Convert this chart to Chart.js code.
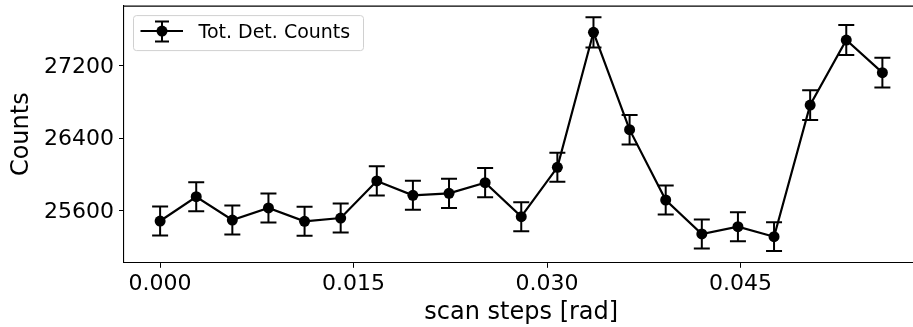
<!DOCTYPE html>
<html>
<head>
<meta charset="utf-8">
<script src="https://cdn.jsdelivr.net/npm/chart.js@4/dist/chart.umd.min.js"></script>
<style>
  html, body { margin: 0; padding: 0; background: #fff; overflow: hidden; }
  #wrap { width: 913px; height: 327px; overflow: hidden; }
  canvas { display: block; }
</style>
</head>
<body>
<div id="wrap"><canvas id="c" width="924" height="327"></canvas></div>
<script>
// ---- data ----
const scanSteps = [0.0000, 0.0028, 0.0056, 0.0084, 0.0112, 0.0140, 0.0168, 0.0196, 0.0224, 0.0252,
                   0.0280, 0.0308, 0.0336, 0.0364, 0.0392, 0.0420, 0.0448, 0.0476, 0.0504, 0.0532, 0.0560];
const counts = [25486, 25754, 25497, 25630, 25483, 25519, 25928, 25770, 25792, 25909,
                25534, 26079, 27568, 26494, 25718, 25343, 25423, 25313, 26766, 27483, 27123];
const countErrors = [160, 160, 160, 160, 160, 160, 161, 161, 161, 161,
                     160, 161, 166, 163, 160, 159, 159, 159, 164, 166, 165];
const xTicks = [0.000, 0.015, 0.030, 0.045];
const yTicks = [25600, 26400, 27200];
const seriesLabel = 'Tot. Det. Counts';
const xTitle = 'scan steps [rad]';
const yTitle = 'Counts';

const FONT = 'DejaVu Sans';

const points = scanSteps.map((x, i) => ({ x: x, y: counts[i] }));

const errorBarPlugin = {
  id: 'errorBars',
  beforeDatasetsDraw(chart) {
    const ctx = chart.ctx;
    const xs = chart.scales.x, ys = chart.scales.y;
    ctx.save();
    ctx.strokeStyle = '#000';
    ctx.lineWidth = 2;
    for (let i = 0; i < counts.length; i++) {
      const px = xs.getPixelForValue(scanSteps[i]);
      const pTop = ys.getPixelForValue(counts[i] + countErrors[i]);
      const pBot = ys.getPixelForValue(counts[i] - countErrors[i]);
      ctx.beginPath();
      ctx.moveTo(px, pTop); ctx.lineTo(px, pBot);
      ctx.moveTo(px - 8, pTop); ctx.lineTo(px + 8, pTop);
      ctx.moveTo(px - 8, pBot); ctx.lineTo(px + 8, pBot);
      ctx.stroke();
    }
    ctx.restore();
  }
};

const framePlugin = {
  id: 'frame',
  afterDraw(chart) {
    const ctx = chart.ctx;
    const a = chart.chartArea;
    ctx.save();
    // top spine
    ctx.strokeStyle = '#000';
    ctx.lineWidth = 1.1;
    ctx.beginPath();
    ctx.moveTo(a.left, a.top + 0.5);
    ctx.lineTo(a.right, a.top + 0.5);
    ctx.stroke();

    // legend
    const lx = a.left + 9.5, ly = a.top + 10, lw = 230, lh = 35;
    ctx.fillStyle = 'rgba(255,255,255,0.8)';
    ctx.strokeStyle = '#d0d0d0';
    ctx.lineWidth = 1;
    ctx.beginPath();
    const r = 3;
    ctx.moveTo(lx + r, ly);
    ctx.lineTo(lx + lw - r, ly);
    ctx.arcTo(lx + lw, ly, lx + lw, ly + r, r);
    ctx.lineTo(lx + lw, ly + lh - r);
    ctx.arcTo(lx + lw, ly + lh, lx + lw - r, ly + lh, r);
    ctx.lineTo(lx + r, ly + lh);
    ctx.arcTo(lx, ly + lh, lx, ly + lh - r, r);
    ctx.lineTo(lx, ly + r);
    ctx.arcTo(lx, ly, lx + r, ly, r);
    ctx.closePath();
    ctx.fill();
    ctx.stroke();

    const cy = ly + 15.5, cx = lx + 28.5;
    ctx.strokeStyle = '#000';
    ctx.lineWidth = 2;
    ctx.beginPath();
    ctx.moveTo(lx + 7, cy); ctx.lineTo(lx + 49.5, cy);
    ctx.moveTo(cx, cy - 9.5); ctx.lineTo(cx, cy + 10.5);
    ctx.moveTo(cx - 7, cy - 9.5); ctx.lineTo(cx + 7, cy - 9.5);
    ctx.moveTo(cx - 7, cy + 10.5); ctx.lineTo(cx + 7, cy + 10.5);
    ctx.stroke();
    ctx.fillStyle = '#000';
    ctx.beginPath();
    ctx.arc(cx, cy, 5.5, 0, Math.PI * 2);
    ctx.fill();

    ctx.font = '19px "' + FONT + '"';
    ctx.textBaseline = 'alphabetic';
    ctx.textAlign = 'left';
    ctx.fillStyle = '#000';
    ctx.fillText(seriesLabel, lx + 65, ly + 22.5);
    ctx.restore();
  }
};

new Chart(document.getElementById('c'), {
  type: 'line',
  data: {
    datasets: [{
      label: seriesLabel,
      data: points,
      borderColor: '#000',
      backgroundColor: '#000',
      borderWidth: 2.2,
      pointRadius: 5.5,
      pointHoverRadius: 5.5,
      pointBackgroundColor: '#000',
      pointBorderWidth: 0,
      tension: 0,
      fill: false
    }]
  },
  options: {
    responsive: false,
    animation: false,
    events: [],
    layout: { padding: { top: 5.6, left: 0, right: 0, bottom: 0 } },
    plugins: {
      legend: { display: false },
      tooltip: { enabled: false }
    },
    scales: {
      x: {
        type: 'linear',
        min: -0.0028,
        max: 0.0588,
        afterBuildTicks(scale) { scale.ticks = xTicks.map(v => ({ value: v })); },
        afterFit(scale) {
          scale.height = 327 - 262.8;
          scale.paddingLeft = 0; scale.paddingRight = 0;
          scale.paddingTop = 0; scale.paddingBottom = 0;
        },
        grid: { display: true, drawOnChartArea: false, drawTicks: true, tickLength: 5, color: '#000', lineWidth: 1 },
        border: { display: true, color: '#000', width: 1.1 },
        ticks: {
          autoSkip: false,
          maxRotation: 0,
          padding: 3,
          color: '#000',
          font: { family: FONT, size: 22 },
          callback: v => Number(v).toFixed(3)
        },
        title: {
          display: true,
          text: xTitle,
          color: '#000',
          font: { family: FONT, size: 24 },
          padding: { top: 0, bottom: 0 }
        }
      },
      y: {
        type: 'linear',
        min: 25025,
        max: 27863,
        afterBuildTicks(scale) { scale.ticks = yTicks.map(v => ({ value: v })); },
        afterFit(scale) {
          scale.width = 124;
          scale.paddingTop = 0; scale.paddingBottom = 0;
          scale.paddingLeft = 0; scale.paddingRight = 0;
        },
        grid: { display: true, drawOnChartArea: false, drawTicks: true, tickLength: 5, color: '#000', lineWidth: 1 },
        border: { display: true, color: '#000', width: 1.1 },
        ticks: {
          autoSkip: false,
          padding: 5,
          labelOffset: 1.5,
          color: '#000',
          font: { family: FONT, size: 22 },
          callback: v => String(v)
        },
        title: {
          display: true,
          text: yTitle,
          color: '#000',
          font: { family: FONT, size: 24 },
          padding: { top: 7, bottom: 0 }
        }
      }
    }
  },
  plugins: [errorBarPlugin, framePlugin]
});
</script>
</body>
</html>
